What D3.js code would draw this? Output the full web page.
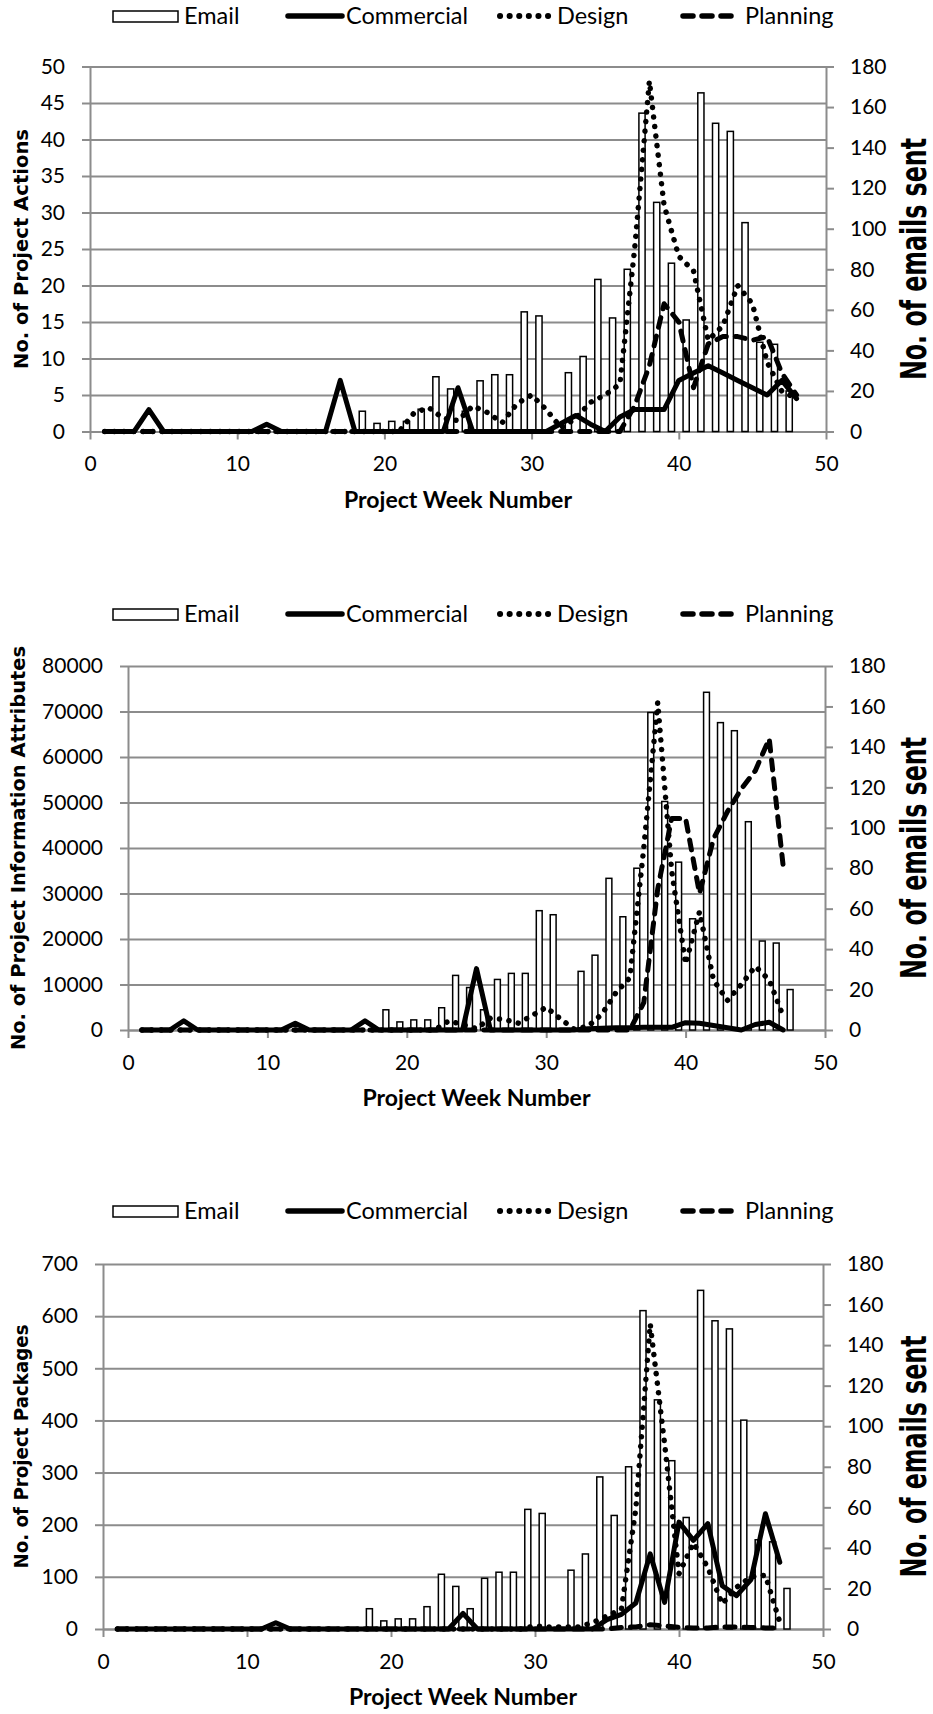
<!DOCTYPE html>
<html>
<head>
<meta charset="utf-8">
<script src="https://cdnjs.cloudflare.com/ajax/libs/d3/7.8.5/d3.min.js"></script>
<style>
body{margin:0;background:#fff;}
text{fill:#000;}
.axis path,.axis line{stroke:#8c8c8c;stroke-width:2;}
.grid line{stroke:#8c8c8c;stroke-width:2;}
.grid path{display:none;}
</style>
</head>
<body>
<script>
// project weeks (line series)
var weeks48 = [1,2,3,4,5,6,7,8,9,10,11,12,13,14,15,16,17,18,19,20,21,22,23,24,25,26,27,28,29,30,31,32,33,34,35,36,37,38,39,40,41,42,43,44,45,46,47,48];
var weeks47 = [1,2,3,4,5,6,7,8,9,10,11,12,13,14,15,16,17,18,19,20,21,22,23,24,25,26,27,28,29,30,31,32,33,34,35,36,37,38,39,40,41,42,43,44,45,46,47];

// emails sent per week (same in all three charts)
var emails = [0,0,0,0,0,0,0,0,0,0,0,0,0,0,0,0,0,0,10,4,5,5,11,27,21,10,25,28,28,59,57,0,29,37,75,56,80,157,113,83,55,167,152,148,103,44,43,20];

// chart 1: project actions
var commercial1 = [0,0,0,3,0,0,0,0,0,0, 0,1,0,0,0,0,7,0,0,0, 0,0,0,0,6,0,0,0,0,0, 0,1.1,2.2,1,0,2,3,3,3,7, 8,9,8,7,6,5,7,4.5];
var design1     = [0,0,0,0,0,0,0,0,0,0, 0,0,0,0,0,0,0,0,0,0, 0,2.5,3.3,1.8,1.5,3.5,2.6,1.2,3.8,5, 3,0.5,1.8,4,5,6.5,25,48,31,24, 22,12.5,14.5,20,17.5,9.5,5.5,4.5];
var planning1   = [0,0,0,0,0,0,0,0,0,0, 0,0,0,0,0,0,0,0,0,0, 0,0,0,0,0,0,0,0,0,0, 0,0,0,0,0,0,3.5,9,17.5,15, 6,12,13,13,12.5,13,8,5];

// chart 2: project information attributes
var commercial2 = [0,0,0,2000,0,0,0,0,0,0, 0,1500,0,0,0,0,2000,0,0,0, 0,0,0,0,13500,0,0,0,0,0, 0,0,300,400,500,500,600,600,600,1600, 1500,1000,500,0,1200,1700,0];
var design2     = [0,0,0,0,0,0,0,0,0,0, 0,0,0,0,0,0,0,0,0,0, 0,0,2000,1200,300,2600,2300,1500,3200,5000, 2500,200,800,3500,8200,11500,40000,72000,35000,14500, 26000,11000,6500,10000,14000,11000,3000];
var planning2   = [0,0,0,0,0,0,0,0,0,0, 0,0,0,0,0,0,0,0,0,0, 0,0,0,0,0,0,0,0,0,0, 0,0,0,0,0,0,6000,31000,46500,46500, 30000,42000,48000,53000,57000,64000,36000];

// chart 3: project packages
var commercial3 = [0,0,0,0,0,0,0,0,0,0, 0,12,0,0,0,0,0,0,0,0, 0,0,0,0,30,0,0,0,0,0, 0,0,0,0,18,28,50,144,51,205, 170,202,83,64,95,221,128];
var design3     = [0,0,0,0,0,0,0,0,0,0, 0,0,0,0,0,0,0,0,0,0, 0,0,0,0,0,0,0,0,0,6, 4,4,4,12,25,38,230,585,355,106, 165,118,48,80,100,103,13];
var planning3   = [0,0,0,0,0,0,0,0,0,0, 0,0,0,0,0,0,0,0,0,0, 0,0,0,0,0,0,0,0,0,0, 0,0,0,0,0,3,4,8,6,3, 2,2,4,4,3,2,2];

// tick values
var xTicks = [0,10,20,30,40,50];
var rightTicks = [0,20,40,60,80,100,120,140,160,180];
var ticks1 = [0,5,10,15,20,25,30,35,40,45,50];
var ticks2 = [0,10000,20000,30000,40000,50000,60000,70000,80000];
var ticks3 = [0,100,200,300,400,500,600,700];

var legendNames = ['Email','Commercial','Design','Planning'];

var lineStyles = {
  Commercial: {dash: null, width: 5},
  Design: {dash: '0.1 9.5', width: 5.5},
  Planning: {dash: '10 9', width: 5}
};

var tickFont = "Lato, 'Open Sans', sans-serif";
var titleFont = "'DejaVu Sans', Verdana, sans-serif";

var svg = d3.select('body').append('svg')
  .attr('width', 933).attr('height', 1714);

var to_points = function(wks, vals){
  return wks.map(function(w, i){ return {week: w, v: vals[i]}; });
};

var draw_legend = function(g, by){
  // email box
  g.append('rect').attr('x', 113).attr('y', by - 13).attr('width', 65).attr('height', 11)
    .attr('fill', '#fff').attr('stroke', '#000').attr('stroke-width', 1.5);
  g.append('text').attr('x', 184).attr('y', by).style('font-family', tickFont)
    .style('font-size', '23.5px').text(legendNames[0]);

  var items = [
    {name: legendNames[1], x1: 288, x2: 342, tx: 346},
    {name: legendNames[2], x1: 500, x2: 550, tx: 557},
    {name: legendNames[3], x1: 683, x2: 739, tx: 745}
  ];
  items.forEach(function(it){
    var st = lineStyles[it.name];
    g.append('line').attr('x1', it.x1).attr('x2', it.x2).attr('y1', by - 8).attr('y2', by - 8)
      .attr('stroke', '#000').attr('stroke-width', st.width + 0.5)
      .attr('stroke-linecap', 'round')
      .attr('stroke-dasharray', st.dash);
    g.append('text').attr('x', it.tx).attr('y', by).style('font-family', tickFont)
      .style('font-size', '23.5px').text(it.name);
  });
};

var draw_chart = function(c){
  var g = svg.append('g');
  var x = d3.scaleLinear().domain([0, 50]).range([c.x0, c.x1]);
  var yL = d3.scaleLinear().domain([0, c.leftMax]).range([c.yBot, c.yTop]);
  var yR = d3.scaleLinear().domain([0, 180]).range([c.yBot, c.yTop]);

  draw_legend(g, c.legendY);

  // gridlines
  g.append('g').attr('class', 'grid')
    .attr('transform', 'translate(' + c.x0 + ',0)')
    .call(d3.axisLeft(yL).tickValues(c.leftTicks).tickSize(-(c.x1 - c.x0)).tickFormat(''));

  // axes
  var left = g.append('g').attr('class', 'axis')
    .attr('transform', 'translate(' + c.x0 + ',0)')
    .call(d3.axisLeft(yL).tickValues(c.leftTicks).tickFormat(d3.format('d'))
      .tickSizeInner(8).tickSizeOuter(0).tickPadding(17));
  var right = g.append('g').attr('class', 'axis')
    .attr('transform', 'translate(' + c.x1 + ',0)')
    .call(d3.axisRight(yR).tickValues(rightTicks).tickSizeInner(8).tickSizeOuter(0).tickPadding(16));
  var bottom = g.append('g').attr('class', 'axis')
    .attr('transform', 'translate(0,' + c.yBot + ')')
    .call(d3.axisBottom(x).tickValues(xTicks).tickSizeInner(8).tickSizeOuter(0).tickPadding(17));
  [left, right, bottom].forEach(function(a){
    a.selectAll('text').style('font-size', '21px').style('font-family', tickFont).attr('fill', '#000');
  });

  // email bars, drawn half a week before the line points
  var wk = x(1) - x(0);
  var bw = wk * 0.42;
  var bars = to_points(weeks48, emails).filter(function(d){ return d.v > 0; });
  g.selectAll('rect.bar').data(bars).enter().append('rect')
    .attr('class', 'bar')
    .attr('x', function(d){ return x(d.week - 0.5) - bw / 2; })
    .attr('y', function(d){ return yR(d.v); })
    .attr('width', bw)
    .attr('height', function(d){ return c.yBot - yR(d.v); })
    .attr('fill', '#fff').attr('stroke', '#000').attr('stroke-width', 1.5);

  var line = d3.line()
    .x(function(d){ return x(d.week); })
    .y(function(d){ return yL(d.v); });

  c.series.forEach(function(s){
    var st = lineStyles[s.name];
    g.append('path').datum(to_points(c.weeks, s.values))
      .attr('d', line)
      .attr('fill', 'none').attr('stroke', '#000').attr('stroke-width', st.width)
      .attr('stroke-linejoin', 'round')
      .attr('stroke-linecap', 'round')
      .attr('stroke-dasharray', st.dash);
  });

  // axis titles
  g.append('text')
    .attr('transform', 'translate(' + c.leftTitleX + ',' + ((c.yTop + c.yBot) / 2) + ') rotate(-90)')
    .attr('text-anchor', 'middle').attr('dominant-baseline', 'central')
    .attr('textLength', c.leftTitleLen).attr('lengthAdjust', 'spacingAndGlyphs')
    .style('font-family', titleFont).style('font-weight', 'bold')
    .style('font-size', c.leftTitleSize + 'px').text(c.leftTitle);
  g.append('text')
    .attr('transform', 'translate(913,' + ((c.yTop + c.yBot) / 2 + 10) + ') rotate(-90)')
    .attr('text-anchor', 'middle').attr('dominant-baseline', 'central')
    .attr('textLength', 242).attr('lengthAdjust', 'spacingAndGlyphs')
    .style('font-family', titleFont).style('font-weight', 'bold')
    .style('font-size', '36px').text('No. of emails sent');
  g.append('text')
    .attr('x', (c.x0 + c.x1) / 2).attr('y', c.yBot + 76)
    .attr('text-anchor', 'middle')
    .attr('textLength', 228).attr('lengthAdjust', 'spacingAndGlyphs')
    .style('font-family', tickFont).style('font-weight', 'bold')
    .style('font-size', '23px').text('Project Week Number');
};

draw_chart({
  x0: 90, x1: 826, yTop: 66.5, yBot: 431.5, leftMax: 50, leftTicks: ticks1,
  legendY: 24, leftTitleX: 21, leftTitle: 'No. of Project Actions', leftTitleSize: 20, leftTitleLen: 240,
  weeks: weeks48,
  series: [{name: 'Commercial', values: commercial1}, {name: 'Design', values: design1}, {name: 'Planning', values: planning1}]
});
draw_chart({
  x0: 128, x1: 825, yTop: 666, yBot: 1030, leftMax: 80000, leftTicks: ticks2,
  legendY: 622, leftTitleX: 18, leftTitle: 'No. of Project Information Attributes', leftTitleSize: 20, leftTitleLen: 404,
  weeks: weeks47,
  series: [{name: 'Commercial', values: commercial2}, {name: 'Design', values: design2}, {name: 'Planning', values: planning2}]
});
draw_chart({
  x0: 103, x1: 823, yTop: 1264, yBot: 1629, leftMax: 700, leftTicks: ticks3,
  legendY: 1219, leftTitleX: 21, leftTitle: 'No. of Project Packages', leftTitleSize: 20, leftTitleLen: 244,
  weeks: weeks47,
  series: [{name: 'Commercial', values: commercial3}, {name: 'Design', values: design3}, {name: 'Planning', values: planning3}]
});
</script>
</body>
</html>
